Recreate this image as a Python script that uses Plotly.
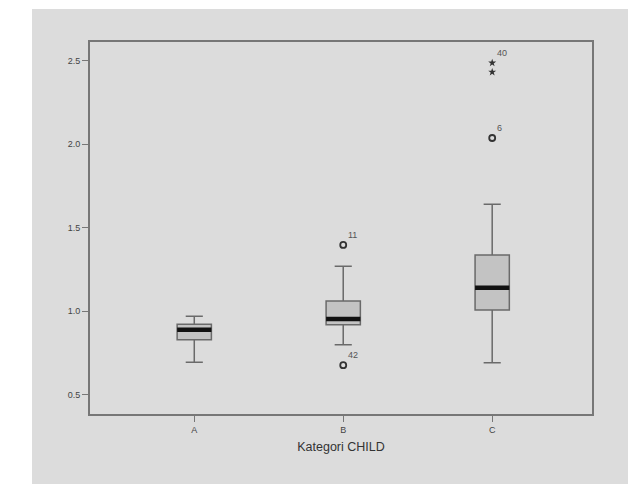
import plotly.graph_objects as go

categories = ["A", "B", "C"]
q1 = [0.83, 0.92, 1.008]
median = [0.89, 0.954, 1.141]
q3 = [0.922, 1.062, 1.337]
lower_whisker = [0.695, 0.80, 0.692]
upper_whisker = [0.97, 1.27, 1.64]

# outliers (circles) and extremes (stars)
outlier_cat = [1, 1, 2]
outlier_val = [1.397, 0.678, 2.036]
outlier_lbl = ["11", "42", "6"]
extreme_cat = [2, 2]
extreme_val = [2.485, 2.43]
extreme_lbl = ["40", ""]

y_ticks = [0.5, 1.0, 1.5, 2.0, 2.5]

box_w = 0.23
xpos = list(range(len(categories)))

fig = go.Figure()
fig.add_trace(go.Box(
    x=xpos, q1=q1, median=median, q3=q3,
    lowerfence=lower_whisker, upperfence=upper_whisker,
    width=box_w, whiskerwidth=0.5,
    fillcolor="#c3c3c3", line=dict(color="#6a6a6a", width=1.5),
    boxpoints=False, showlegend=False, hoverinfo="skip",
))

mx, my = [], []
for i, m in zip(xpos, median):
    mx += [i - box_w / 2, i + box_w / 2, None]
    my += [m, m, None]
fig.add_trace(go.Scatter(x=mx, y=my, mode="lines",
                         line=dict(color="#111111", width=4.5),
                         showlegend=False, hoverinfo="skip"))

fig.add_trace(go.Scatter(
    x=outlier_cat, y=outlier_val, mode="markers+text", text=outlier_lbl,
    textposition="top right", textfont=dict(size=9, color="#555555", family="Liberation Sans"),
    marker=dict(symbol="circle-open", size=6, line=dict(width=1.8, color="#333333"), color="#333333"),
    showlegend=False, hoverinfo="skip"))
fig.add_trace(go.Scatter(
    x=extreme_cat, y=extreme_val, mode="markers+text", text=extreme_lbl,
    textposition="top right", textfont=dict(size=9, color="#555555", family="Liberation Sans"),
    marker=dict(symbol="star", size=6, color="#333333"),
    showlegend=False, hoverinfo="skip"))

# page has an 8px body margin; figure sized to fit the window
OFF = 8
W, H = 636 - OFF, 484 - OFF
L, T = 90 - OFF, 42 - OFF
R = W - (592 - OFF)
B = H - (414 - OFF)
pw, ph = W - L - R, H - T - B
bottom_px = H - B


def px_x(X):
    return (X - OFF - L) / pw


def px_y(Y):
    return (bottom_px - (Y - OFF)) / ph


fig.add_shape(type="rect", xref="paper", yref="paper",
              x0=px_x(32), x1=px_x(628), y0=px_y(490), y1=px_y(9),
              fillcolor="#dcdcdc", line=dict(width=0), layer="below")

fig.update_layout(
    width=W, height=H, margin=dict(l=L, r=R, t=T, b=B),
    paper_bgcolor="white", plot_bgcolor="#dcdcdc",
    font=dict(family="Liberation Sans", color="#444444"),
    xaxis=dict(range=[-0.7, 2.67], tickvals=xpos, ticktext=categories,
               showline=True, mirror=True, linecolor="#777777", linewidth=2,
               ticks="outside", ticklen=6, tickcolor="#777777", tickfont=dict(size=9, color="#444444"),
               showgrid=False, zeroline=False,
               title=dict(text="Kategori CHILD", font=dict(size=12.5, color="#333333"), standoff=8)),
    yaxis=dict(range=[0.386, 2.61], tickvals=y_ticks, tickformat=".1f",
               showline=True, mirror=True, linecolor="#777777", linewidth=2,
               ticks="outside", ticklen=6, tickcolor="#777777", tickfont=dict(size=9, color="#444444"),
               showgrid=False, zeroline=False),
)
fig.write_html("out.html")
